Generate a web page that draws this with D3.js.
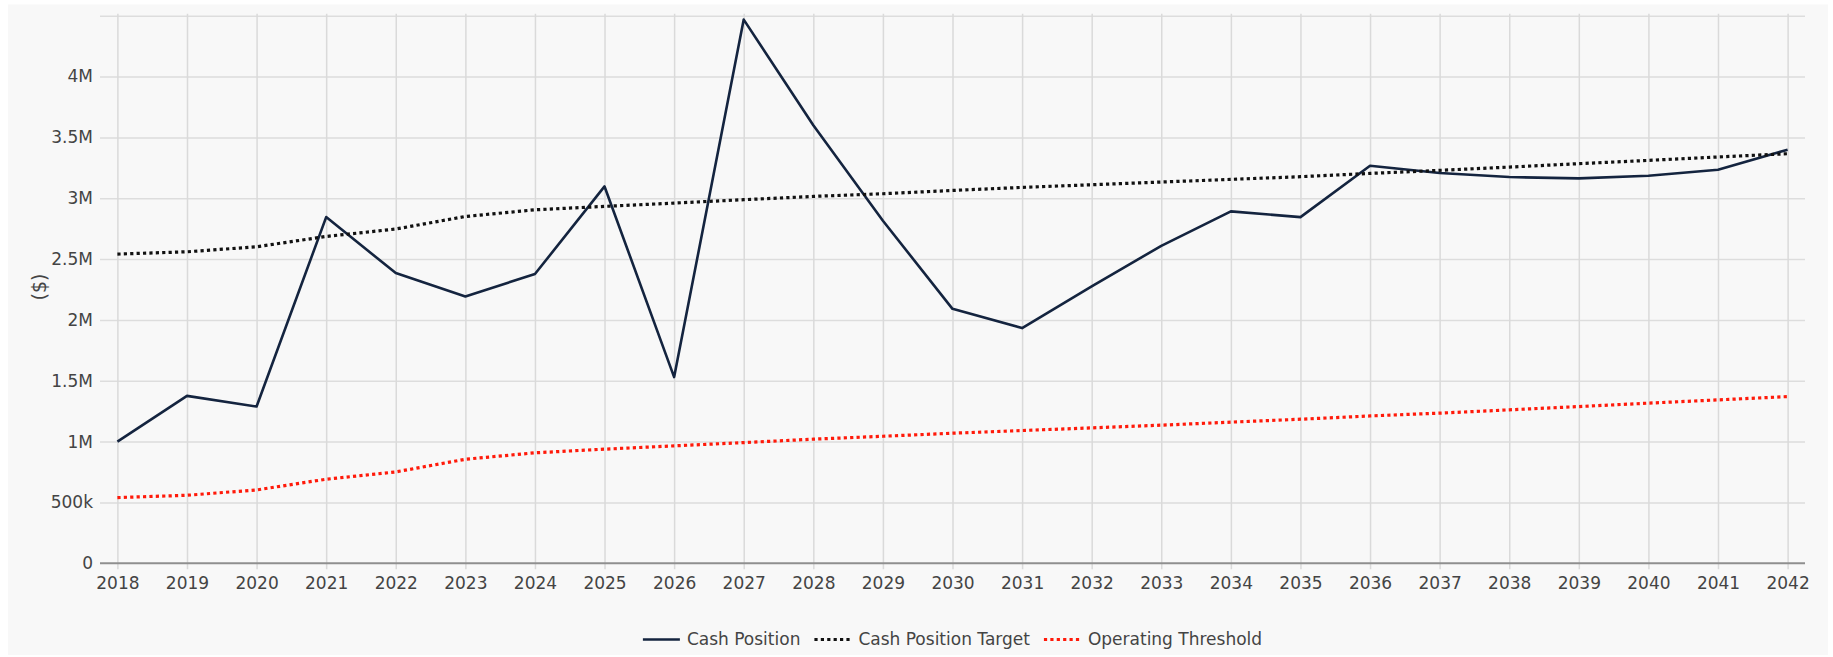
<!DOCTYPE html>
<html>
<head>
<meta charset="utf-8">
<script src="https://cdn.jsdelivr.net/npm/d3@7"></script>
<style>
	body { margin: 0; background: #ffffff; }
	text { font-family: "DejaVu Sans", Verdana, sans-serif; fill: #444444; }
</style>
</head>
<body>
<div id="chart-area"></div>
<script>
// data
var years = [2018, 2019, 2020, 2021, 2022, 2023, 2024, 2025, 2026, 2027, 2028, 2029, 2030,
	2031, 2032, 2033, 2034, 2035, 2036, 2037, 2038, 2039, 2040, 2041, 2042];

var cashPosition = [1000000, 1376000, 1288000, 2845000, 2385000, 2193000, 2377000, 3097000, 1530000,
	4468000, 3600000, 2815000, 2091000, 1933000, 2275000, 2609000, 2892000, 2845000, 3267000,
	3207000, 3174000, 3163000, 3185000, 3234000, 3399000];

var cashTarget = [2541000, 2560000, 2601000, 2686000, 2747000, 2850000, 2905000, 2933000, 2960000,
	2988000, 3015000, 3037000, 3064000, 3089000, 3111000, 3133000, 3155000, 3177000, 3204000,
	3229000, 3256000, 3284000, 3311000, 3339000, 3366000];

var operatingThreshold = [540000, 559000, 603000, 691000, 751000, 855000, 908000, 938000, 965000,
	992000, 1020000, 1044000, 1069000, 1091000, 1113000, 1135000, 1160000, 1184000, 1211000,
	1234000, 1261000, 1288000, 1316000, 1343000, 1370000];

var yTicks = [0, 500000, 1000000, 1500000, 2000000, 2500000, 3000000, 3500000, 4000000];
var yTickLabels = ["0", "500k", "1M", "1.5M", "2M", "2.5M", "3M", "3.5M", "4M"];
var yGrid = [500000, 1000000, 1500000, 2000000, 2500000, 3000000, 3500000, 4000000, 4500000];

var seriesNames = ["Cash Position", "Cash Position Target", "Operating Threshold"];

const widthinput = 1833;
const heightinput = 657;

var margin = { top: 15.7, right: 28, bottom: 93.7, left: 100 };

var width = widthinput - margin.left - margin.right,
	height = heightinput - margin.top - margin.bottom;

var svg = d3.select("#chart-area")
	.append("svg")
		.attr("width", widthinput)
		.attr("height", heightinput);

// panel background
svg.append("rect")
	.attr("x", 8)
	.attr("y", 4.5)
	.attr("width", 1820)
	.attr("height", 650.5)
	.attr("fill", "#f8f8f8");

var g = svg.append("g")
	.attr("transform", "translate(" + margin.left + ", " + margin.top + ")");

// x-scale
var x = d3.scaleLinear()
	.domain([2017.75, 2042.25])
	.range([0, width]);

// y-scale
var y = d3.scaleLinear()
	.domain([0, 4500000])
	.range([height, 0]);

// horizontal grid
g.append("g")
	.call(d3.axisLeft(y).tickValues(yGrid).tickSize(-width).tickFormat(""))
	.call(function(s) {
		s.select(".domain").remove();
		s.selectAll("line").attr("stroke", "#dddddd").attr("stroke-width", 1.5);
	});

// x-axis with vertical grid
g.append("g")
	.attr("transform", "translate(0, " + height + ")")
	.call(d3.axisBottom(x).tickValues(years).tickFormat(d3.format("d")).tickSize(6).tickPadding(8))
	.call(function(s) {
		s.select(".domain").remove();
		s.selectAll("line")
			.attr("y1", -height - 2)
			.attr("y2", 6)
			.attr("stroke", "#dadada")
			.attr("stroke-width", 1.5);
		s.selectAll("text")
			.attr("fill", "#444444")
			.style("font-size", "17px");
	});

// y-axis labels
g.append("g")
	.call(d3.axisLeft(y).tickValues(yTicks).tickSize(0).tickPadding(7)
		.tickFormat(function(d, i) { return yTickLabels[i]; }))
	.call(function(s) {
		s.select(".domain").remove();
		s.selectAll("text")
			.attr("fill", "#444444")
			.style("font-size", "17px");
	});

// zero line
g.append("line")
	.attr("x1", 0)
	.attr("x2", width)
	.attr("y1", y(0))
	.attr("y2", y(0))
	.attr("stroke", "#8f8f8f")
	.attr("stroke-width", 2);

// y-label
svg.append("text")
	.attr("x", -287)
	.attr("y", 39)
	.attr("dy", "0.35em")
	.attr("text-anchor", "middle")
	.attr("transform", "rotate(-90)")
	.style("font-size", "19px")
	.text("($)");

var line = d3.line()
	.x(function(d, i) { return x(years[i]); })
	.y(function(d) { return y(d); });

var styles = [
	{ data: cashPosition, color: "#14243f", width: 2.6, dash: null },
	{ data: cashTarget, color: "#111111", width: 3.2, dash: "3.2,3.2" },
	{ data: operatingThreshold, color: "#ff1a0a", width: 3.2, dash: "3.2,3.2" }
];

// lines
g.selectAll(".series")
	.data(styles)
	.enter()
	.append("path")
		.attr("class", "series")
		.attr("d", function(d) { return line(d.data); })
		.attr("fill", "none")
		.attr("stroke", function(d) { return d.color; })
		.attr("stroke-width", function(d) { return d.width; })
		.attr("stroke-dasharray", function(d) { return d.dash; })
		.attr("stroke-linejoin", "round");

// legend
var legend = svg.append("g");
var cursor = 0;
styles.forEach(function(s, i) {
	var item = legend.append("g");
	item.append("line")
		.attr("x1", 0)
		.attr("x2", 37)
		.attr("stroke", s.color)
		.attr("stroke-width", s.width)
		.attr("stroke-dasharray", s.dash);
	var t = item.append("text")
		.attr("x", 44)
		.attr("dy", "0.35em")
		.style("font-size", "17px")
		.text(seriesNames[i]);
	var w = 44 + t.node().getComputedTextLength();
	item.attr("transform", "translate(" + cursor + ", 0)");
	cursor += w + 14;
});
var legendWidth = cursor - 14;
legend.attr("transform", "translate(" + (margin.left + width / 2 - legendWidth / 2) + ", 639.5)");
</script>
</body>
</html>
